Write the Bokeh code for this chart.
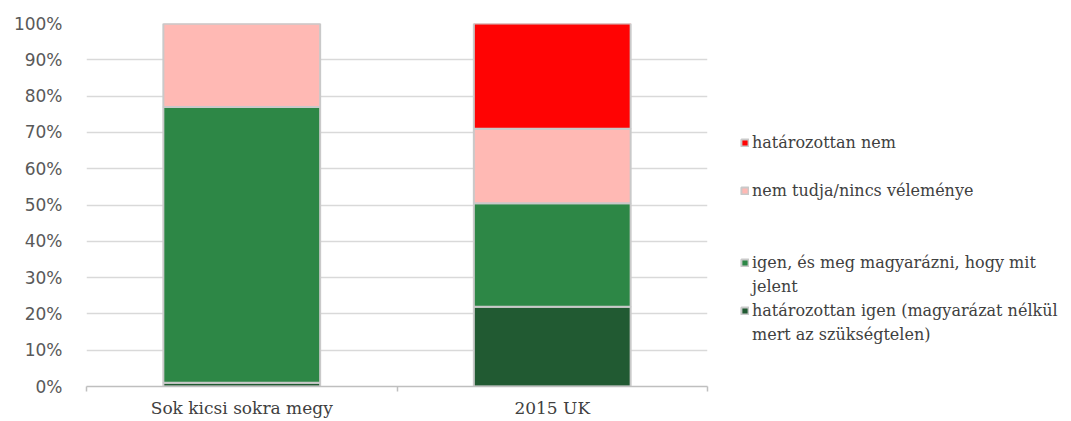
from bokeh.plotting import figure
from bokeh.models import (Range1d, LinearAxis, FixedTicker, Legend, LegendItem,
                          ColumnDataSource)
from bokeh.embed import file_html
from bokeh.resources import INLINE

# ---- data ----
categories = ["Sok kicsi sokra megy", "2015 UK"]
# legend labels, one list per series (continuation lines of wrapped labels)
series_labels = [
    ["határozottan igen (magyarázat nélkül", "mert az szükségtelen)"],
    ["igen, és meg magyarázni, hogy mit", "jelent"],
    ["nem tudja/nincs véleménye"],
    ["határozottan nem"],
]
definitely_yes = [1.0, 22.0]
yes_explain = [76.0, 28.5]
dont_know = [23.0, 20.5]
definitely_no = [0.0, 29.0]
y_ticks = [0, 10, 20, 30, 40, 50, 60, 70, 80, 90, 100]
colors = ["#215A32", "#2D8746", "#FFB9B4", "#FF0303"]

series = [definitely_yes, yes_explain, dont_know, definitely_no]
keys = ["s0", "s1", "s2", "s3"]
xs = [i + 0.5 for i in range(len(categories))]
data = {"x": xs}
for k, s in zip(keys, series):
    data[k] = s
src = ColumnDataSource(data)

p = figure(frame_width=621, frame_height=363, output_backend="svg",
           toolbar_location=None, x_range=Range1d(0, len(categories)),
           y_range=Range1d(0, 100), x_axis_location=None,
           min_border_left=86, min_border_top=23, min_border_bottom=10,
           min_border_right=0)
p.outline_line_color = None
p.background_fill_color = "white"
p.border_fill_color = "white"

renderers = p.vbar_stack(keys, x="x", width=0.505, source=src, color=colors,
                         line_color="#C9C9C9", line_width=2)
# empty renderer: invisible glyph for blank legend rows / continuation lines
blank = p.vbar(x=[], top=[], width=0.5, fill_alpha=0, line_alpha=0)

# y axis
yax = p.yaxis[0]
yax.ticker = FixedTicker(ticks=y_ticks)
yax.major_label_overrides = {t: f"{t}%" for t in y_ticks}
yax.axis_line_color = None
yax.major_tick_line_color = None
yax.minor_tick_line_color = None
yax.major_label_text_font = "DejaVu Sans"
yax.major_label_text_font_size = "17px"
yax.major_label_text_color = "#595959"
yax.major_label_standoff = 18

p.ygrid.ticker = FixedTicker(ticks=y_ticks[1:])
p.ygrid.grid_line_color = "#D9D9D9"
p.ygrid.grid_line_width = 1.5
p.xgrid.grid_line_color = None

# x axis: boundary tick marks
bounds = list(range(len(categories) + 1))
tick_ax = LinearAxis(ticker=FixedTicker(ticks=bounds))
tick_ax.major_label_overrides = {b: "" for b in bounds}
tick_ax.major_label_text_font_size = "4px"
tick_ax.major_label_standoff = 0
tick_ax.major_tick_in = 0
tick_ax.major_tick_out = 5
tick_ax.minor_tick_line_color = None
tick_ax.axis_line_color = "#BFBFBF"
tick_ax.axis_line_width = 1.5
tick_ax.major_tick_line_color = "#BFBFBF"
tick_ax.major_tick_line_width = 1.5
p.add_layout(tick_ax, "below")

# x axis: category labels
lab_ax = LinearAxis(ticker=FixedTicker(ticks=xs))
lab_ax.major_label_overrides = {x: c for x, c in zip(xs, categories)}
lab_ax.axis_line_color = None
lab_ax.major_tick_line_color = None
lab_ax.minor_tick_line_color = None
lab_ax.major_label_standoff = 0
lab_ax.major_label_text_font = "DejaVu Serif"
lab_ax.major_label_text_font_size = "17px"
lab_ax.major_label_text_color = "#404040"
p.add_layout(lab_ax, "below")

# legend rows (top to bottom)
rows = [
    (series_labels[3][0], renderers[3]),
    (" ", blank),
    (series_labels[2][0], renderers[2]),
    (" ", blank),
    (" ", blank),
    (series_labels[1][0], renderers[1]),
    (series_labels[1][1], blank),
    (series_labels[0][0], renderers[0]),
    (series_labels[0][1], blank),
]
items = [LegendItem(label=t, renderers=[r]) for t, r in rows]
legend = Legend(items=items, location=(33, 40),
                label_text_font="DejaVu Serif", label_text_font_size="16px",
                label_text_color="#404040")
legend.glyph_width = 9
legend.glyph_height = 9
legend.label_standoff = 3
legend.label_height = 24
legend.spacing = 0
legend.margin = 15
legend.padding = 5
legend.border_line_color = None
legend.background_fill_alpha = 0
p.add_layout(legend, "right")

open("out.html", "w").write(file_html(p, INLINE))
